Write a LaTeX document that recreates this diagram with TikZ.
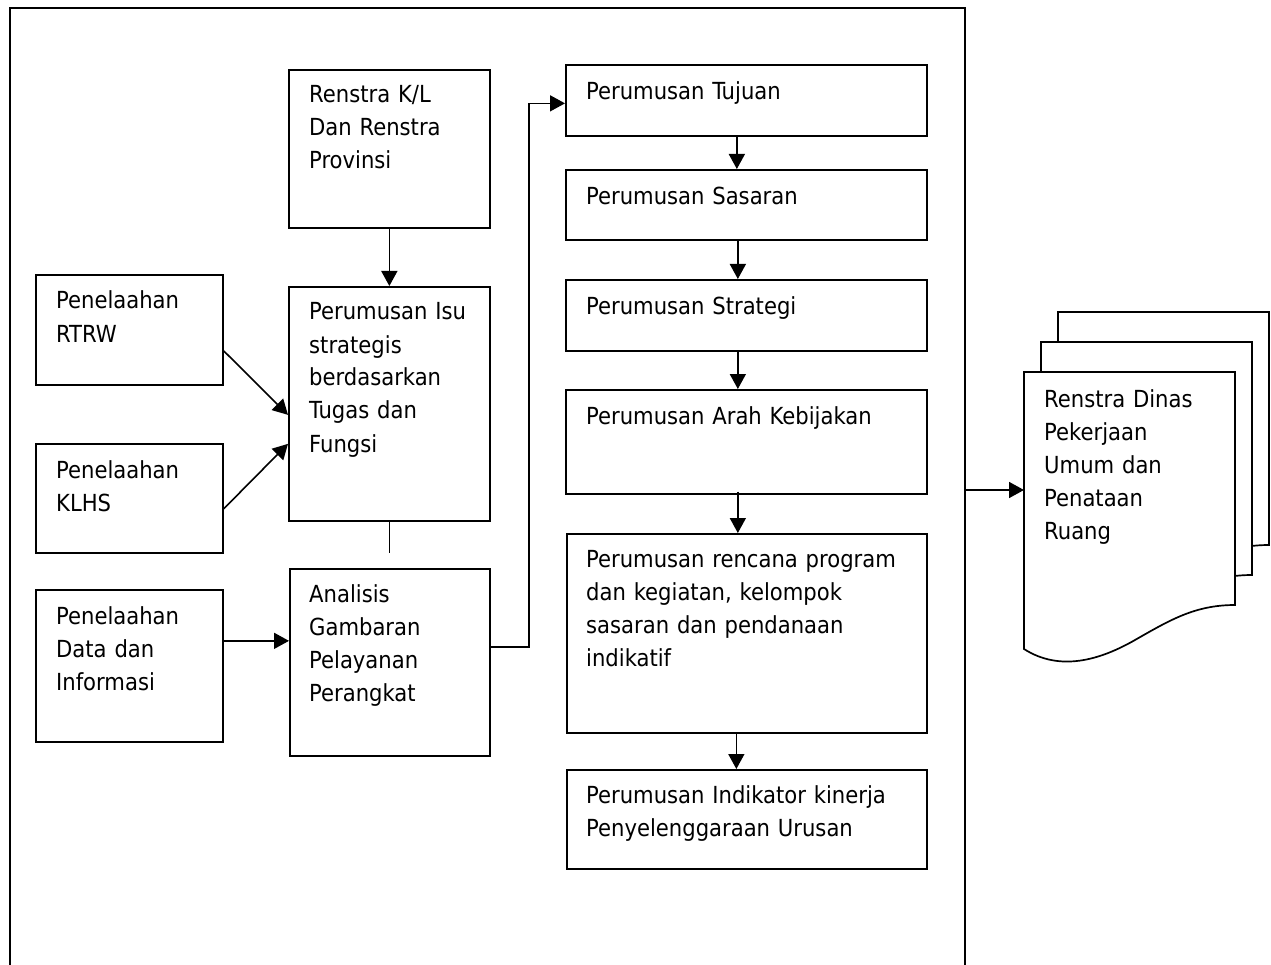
\documentclass[tikz,border=0pt]{standalone}
\usepackage{fontspec}
\IfFontExistsTF{DejaVu Sans Condensed}{\setmainfont{DejaVu Sans Condensed}}{\setmainfont[FakeStretch=0.89]{DejaVu Sans}}
\usetikzlibrary{arrows.meta,calc}
\tikzset{
  box/.style={draw, line width=1.7pt, inner sep=0pt, anchor=north west, fill=white},
  txt/.style={anchor=base west, inner sep=0pt, align=left, text width=420pt,
              font=\fontsize{23.5}{33}\selectfont},
  arr/.style={line width=1.6pt, -{Triangle[length=15pt,width=16pt]}},
  ln/.style={line width=1.6pt},
  docsh/.style={draw, line width=1.7pt, fill=white, line join=miter}
}
\begin{document}
\begin{tikzpicture}[x=1pt,y=-1pt]
\useasboundingbox (0,0) rectangle (1271,965);
\fill[white] (0,0) rectangle (1271,965);
% outer frame
\draw[ln] (10,965) -- (10,8) -- (965,8) -- (965,965);

% left column
\node[box, minimum width=187pt, minimum height=110pt] (rtrw) at (35,274) {};
\node[txt] (rtrwt) at (56,309) {Penelaahan\\RTRW};
\node[box, minimum width=187pt, minimum height=109pt] (klhs) at (35,443) {};
\node[txt] (klhst) at (56,478) {Penelaahan\\KLHS};
\node[box, minimum width=187pt, minimum height=152pt] (data) at (35,589) {};
\node[txt] (datat) at (56,624) {Penelaahan\\Data dan\\Informasi};

% second column
\node[box, minimum width=201pt, minimum height=158pt] (renstra) at (288,69) {};
\node[txt] (renstrat) at (309,103) {Renstra K/L\\Dan Renstra\\Provinsi};
\node[box, minimum width=201pt, minimum height=234pt] (isu) at (288,286) {};
\node[txt] (isut) at (309,320) {Perumusan Isu\\strategis\\berdasarkan\\Tugas dan\\Fungsi};
\node[box, minimum width=200pt, minimum height=187pt] (ana) at (289,568) {};
\node[txt] (anat) at (309,602) {Analisis\\Gambaran\\Pelayanan\\Perangkat};

% third column
\node[box, minimum width=361pt, minimum height=71pt] (tujuan) at (565,64) {};
\node[txt] (tujuant) at (586,100) {Perumusan Tujuan};
\node[box, minimum width=361pt, minimum height=70pt] (sasaran) at (565,169) {};
\node[txt] (sasarant) at (586,205) {Perumusan Sasaran};
\node[box, minimum width=361pt, minimum height=71pt] (strategi) at (565,279) {};
\node[txt] (strategit) at (586,315) {Perumusan Strategi};
\node[box, minimum width=361pt, minimum height=104pt] (kebijakan) at (565,389) {};
\node[txt] (kebijakant) at (586,424) {Perumusan Arah Kebijakan};
\node[box, minimum width=360pt, minimum height=199pt] (rencana) at (566,533) {};
\node[txt] (rencanat) at (586,567) {Perumusan rencana program\\dan kegiatan, kelompok\\sasaran dan pendanaan\\indikatif};
\node[box, minimum width=360pt, minimum height=99pt] (indikator) at (566,769) {};
\node[txt] (indikatort) at (586,803) {Perumusan Indikator kinerja\\Penyelenggaraan Urusan};

% document stack
\begin{scope}[shift={(34,-60)}]
\path[docsh] (1024,372) -- (1235,372) -- (1235,605) .. controls (1195,605) and (1170,620) .. (1135,640)
  .. controls (1100,660) and (1060,672) .. (1024,649) -- cycle;
\end{scope}
\begin{scope}[shift={(17,-30)}]
\path[docsh] (1024,372) -- (1235,372) -- (1235,605) .. controls (1195,605) and (1170,620) .. (1135,640)
  .. controls (1100,660) and (1060,672) .. (1024,649) -- cycle;
\end{scope}
\path[docsh] (1024,372) -- (1235,372) -- (1235,605) .. controls (1195,605) and (1170,620) .. (1135,640)
  .. controls (1100,660) and (1060,672) .. (1024,649) -- cycle;
\node[txt] (doct) at (1044,407) {Renstra Dinas\\Pekerjaan\\Umum dan\\Penataan\\Ruang};

% connectors
\draw[arr] (renstra.south) -- (isu.north);
\draw[arr] ([yshift=-21pt]rtrw.east) -- ([yshift=-11pt]isu.west);
\draw[arr] ([yshift=-10.5pt]klhs.east) -- ([yshift=-40pt]isu.west);
\coordinate (isuend) at ([yshift=-31pt]isu.south);
\draw[ln] (isu.south) -- (isuend);
\coordinate (dp) at ([yshift=25pt]data.east);
\draw[arr] (dp) -- (dp -| ana.west);
\coordinate (tj) at ([yshift=-3pt]tujuan.west);
\draw[arr] ([yshift=15.5pt]ana.east) -- ++(38,0) |- (tj);
\draw[arr] ([xshift=-9.5pt]tujuan.south) -- ([xshift=-9.5pt]sasaran.north);
\draw[arr] ([xshift=-8.5pt]sasaran.south) -- ([xshift=-8.5pt]strategi.north);
\draw[arr] ([xshift=-8.5pt]strategi.south) -- ([xshift=-8.5pt]kebijakan.north);
\coordinate (kb) at ([xshift=-8.5pt,yshift=3pt]kebijakan.south);
\draw[arr] (kb) -- (kb |- rencana.north);
\draw[arr] ([xshift=-10.5pt]rencana.south) -- ([xshift=-10.5pt]indikator.north);
\coordinate (fr) at (965,490);
\coordinate (dl) at (1024,490);
\draw[arr] (fr) -- (dl);
\end{tikzpicture}
\end{document}
